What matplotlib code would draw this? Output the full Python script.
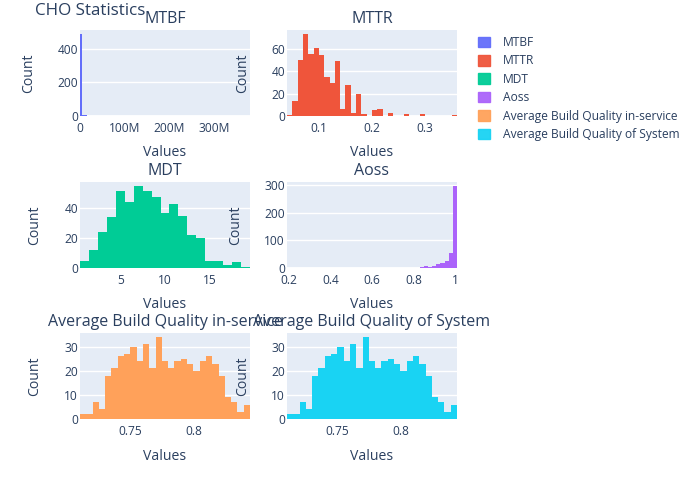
import numpy as np
import matplotlib
matplotlib.use('Agg')
import matplotlib.pyplot as plt
from matplotlib.patches import Patch
from matplotlib.ticker import FuncFormatter

# histogram counts (bin start, bin width, counts)
names = ['MTBF', 'MTTR', 'MDT', 'Aoss',
         'Average Build Quality in-service', 'Average Build Quality of System']
colors = ['#636efa', '#EF553B', '#00cc96', '#ab63fa', '#FFA15A', '#19d3f3']

# MTBF: almost everything in the first bin, one outlier near 380M
mtbf_width = 5e6
mtbf_lefts = [0, 5e6, 10e6, 375e6]
mtbf_counts = [487, 5, 3, 1]
mtbf_range = (0, 380e6)

mttr_start, mttr_width = 0.04, 0.01
mttr_counts = [1, 13, 50, 73, 55, 61, 54, 35, 29, 49, 6, 28, 3, 20, 2, 0,
               5, 6, 0, 3, 0, 0, 2, 0, 0, 2, 0, 0, 0, 0, 0, 1]

mdt_start, mdt_width = 0.5, 1.0
mdt_counts = [5, 12, 24, 34, 52, 44, 55, 52, 48, 37, 43, 35, 22, 20, 5, 5, 2, 4, 1]

aoss_start, aoss_width = 0.19, 0.02
aoss_counts = [0, 0, 0, 0, 0, 0, 0, 0, 0, 0, 0, 1, 0, 0, 0, 0, 0, 0, 0, 0,
               0, 0, 0, 0, 1, 1, 0, 1, 1, 1, 0, 1, 2, 7, 2, 9, 13, 18, 26, 55, 296]

abq_start, abq_width = 0.71, 0.005
abq_service_counts = [2, 2, 7, 4, 18, 21, 26, 27, 30, 24, 31, 21, 34, 24, 21, 24,
                      25, 23, 20, 24, 26, 23, 18, 9, 7, 3, 6]
abq_system_counts = [2, 2, 7, 4, 18, 21, 26, 27, 30, 24, 31, 21, 34, 24, 21, 24,
                     25, 23, 20, 24, 26, 23, 18, 9, 7, 3, 6]

TXT = '#2a3f5f'
plt.rcParams['font.family'] = ['Open Sans', 'DejaVu Sans']
plt.rcParams['text.color'] = TXT

W, H = 700, 500
fig = plt.figure(figsize=(7, 5), dpi=100)


def make_ax(x0, y0, w=170, h=86):
    return fig.add_axes([x0 / W, 1 - (y0 + h) / H, w / W, h / H])


def contiguous(start, width, counts):
    lefts = start + width * np.arange(len(counts))
    return lefts, counts, (start, start + width * len(counts))


panels = [
    (80, 30, mtbf_lefts, mtbf_counts, mtbf_width, mtbf_range,
     [0, 200, 400], [0, 100e6, 200e6, 300e6], -51),
    (287, 30, *contiguous(mttr_start, mttr_width, mttr_counts)[:2], mttr_width,
     contiguous(mttr_start, mttr_width, mttr_counts)[2],
     [0, 20, 40, 60], [0.1, 0.2, 0.3], -44),
    (80, 182, *contiguous(mdt_start, mdt_width, mdt_counts)[:2], mdt_width,
     contiguous(mdt_start, mdt_width, mdt_counts)[2],
     [0, 20, 40], [5, 10, 15], -45),
    (287, 182, *contiguous(aoss_start, aoss_width, aoss_counts)[:2], aoss_width,
     contiguous(aoss_start, aoss_width, aoss_counts)[2],
     [0, 100, 200, 300], [0.2, 0.4, 0.6, 0.8, 1], -51),
    (80, 333, *contiguous(abq_start, abq_width, abq_service_counts)[:2], abq_width,
     contiguous(abq_start, abq_width, abq_service_counts)[2],
     [0, 10, 20, 30], [0.75, 0.8], -45),
    (287, 333, *contiguous(abq_start, abq_width, abq_system_counts)[:2], abq_width,
     contiguous(abq_start, abq_width, abq_system_counts)[2],
     [0, 10, 20, 30], [0.75, 0.8], -44),
]


def fmt_x(v, pos):
    if abs(v) >= 1e6:
        return '%dM' % round(v / 1e6)
    return ('%g' % v)


for i, (x0, y0, lefts, counts, width, xr, yt, xt, ylab_px) in enumerate(panels):
    ax = make_ax(x0, y0)
    ax.set_facecolor('#E5ECF6')
    ax.bar(lefts, counts, width=width, align='edge', color=colors[i],
           linewidth=0, zorder=3)
    ax.set_xlim(*xr)
    ax.set_ylim(0, max(counts) * 1.05)
    ax.set_yticks(yt)
    ax.set_xticks(xt)
    ax.xaxis.set_major_formatter(FuncFormatter(fmt_x))
    ax.grid(axis='y', color='white', linewidth=1, zorder=1)
    ax.axhline(0, color='white', linewidth=2, zorder=2)
    for s in ax.spines.values():
        s.set_visible(False)
    ax.tick_params(length=0, labelsize=8.64, colors=TXT)
    ax.tick_params(axis='y', pad=1.5)
    ax.tick_params(axis='x', pad=4)
    ax.set_title(names[i], fontsize=11.5, color=TXT, pad=5)
    ax.set_xlabel('Values', fontsize=10.08, color=TXT)
    ax.xaxis.set_label_coords(0.5, -37 / 86)
    ax.xaxis.label.set_va('center')
    ax.set_ylabel('Count', fontsize=10.08, color=TXT)
    ax.yaxis.set_label_coords(ylab_px / 170, 0.5)
    ax.yaxis.label.set_va('center')

fig.text(35 / W, 1 - 15 / H, 'CHO Statistics', fontsize=12.24, color=TXT,
         ha='left', va='baseline')

handles = [Patch(facecolor=c, edgecolor=c, alpha=0.95) for c in colors]
fig.legend(handles, names, loc='upper left', bbox_to_anchor=(478 / W, 1 - 36 / H),
           frameon=False, fontsize=8.64, handlelength=1.0, handleheight=1.0,
           handletextpad=1.1, labelspacing=0.45, borderpad=0, borderaxespad=0,
           labelcolor=TXT)

fig.savefig('out.png', dpi=100)
